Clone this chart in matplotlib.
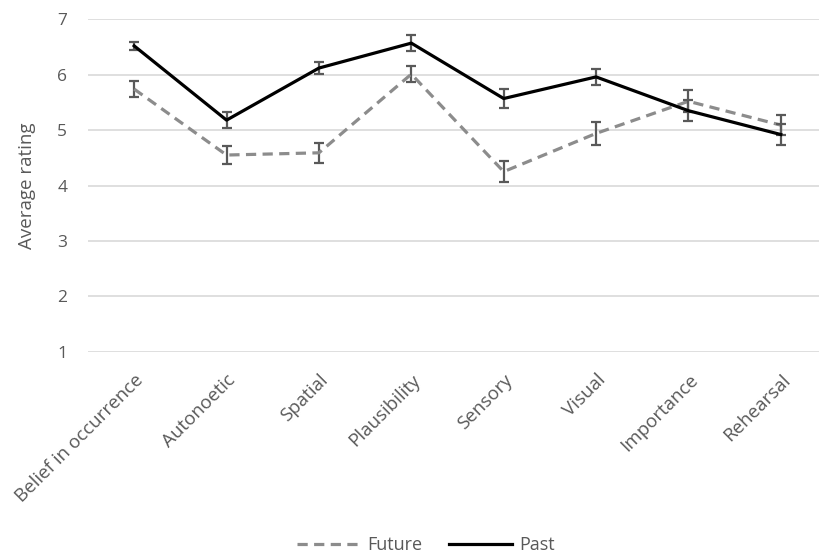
import matplotlib
matplotlib.use("Agg")
from matplotlib import pyplot as plt
import numpy as np

categories = ["Belief in occurrence", "Autonoetic", "Spatial", "Plausibility",
              "Sensory", "Visual", "Importance", "Rehearsal"]
future = [5.74, 4.55, 4.59, 6.01, 4.25, 4.94, 5.52, 5.09]
future_err = [0.15, 0.17, 0.18, 0.15, 0.19, 0.20, 0.20, 0.18]
past = [6.52, 5.18, 6.12, 6.57, 5.57, 5.96, 5.35, 4.92]
past_err = [0.07, 0.14, 0.11, 0.14, 0.17, 0.15, 0.19, 0.19]

plt.rcParams['font.family'] = ['Open Sans', 'DejaVu Sans']
txt = '#595959'

fig = plt.figure(figsize=(8.2, 5.59), dpi=100)
ax = fig.add_axes([88/820, 1-351.7/559, 739/820, (351.7-19.3)/559])
x = np.arange(len(categories))

ax.errorbar(x, future, yerr=future_err, color='#8c8c8c', lw=2.3, ls=(0, (3.2, 2.0)),
            ecolor='#595959', elinewidth=1.6, capsize=3.5, capthick=1.6, label='Future', zorder=3)
ax.errorbar(x, past, yerr=past_err, color='black', lw=2.3,
            ecolor='#595959', elinewidth=1.6, capsize=3.5, capthick=1.6, label='Past', zorder=4)

ax.set_xlim(-0.5, 7.5)
ax.set_ylim(1, 7)
ax.set_yticks(range(1, 8))
ax.set_xticks(x)
ax.set_xticklabels(categories, rotation=45, ha='right', va='top', rotation_mode='anchor')
ax.tick_params(axis='both', length=0, labelsize=12.5, colors=txt)
ax.tick_params(axis='x', labelsize=13.5, pad=14)
ax.tick_params(axis='y', pad=15)
ax.grid(axis='y', color='#d9d9d9', lw=1.2)
ax.set_axisbelow(True)
for s in ax.spines.values():
    s.set_visible(False)

fig.text(27/820, 1-185.5/559, "Average rating", rotation=90, ha='center', va='center',
         fontsize=13.5, color=txt)

handles, labels = ax.get_legend_handles_labels()
handles = [h[0] for h in handles]
fig.legend(handles, labels, loc='center', bbox_to_anchor=(426/820, 1-545/559), ncol=2,
           frameon=False, fontsize=13, labelcolor=txt, handlelength=3.5,
           columnspacing=1.5, handletextpad=0.4)

fig.savefig("out.png", dpi=100)
